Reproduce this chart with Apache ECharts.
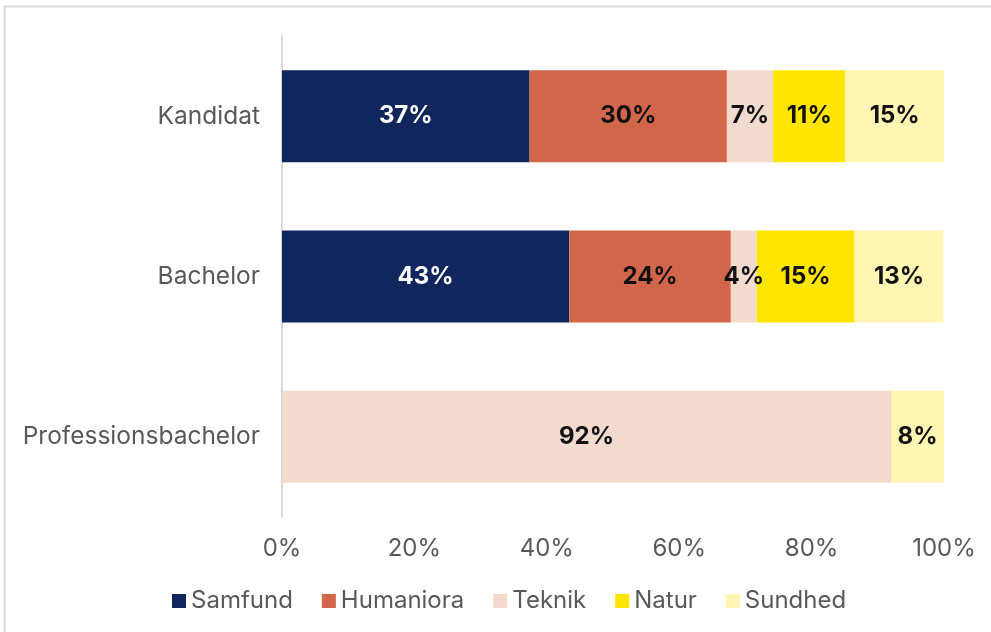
<!DOCTYPE html>
<html>
<head>
<meta charset="utf-8">
<script src="https://cdn.jsdelivr.net/npm/echarts@6/dist/echarts.min.js"></script>
<style>
  html, body { margin: 0; padding: 0; background: #fff; }
  #showChart { width: 991px; height: 632px; }
</style>
</head>
<body>
<div id="showChart"></div>
<script>
// kategorier (oppefra og ned)
var categories = ['Kandidat', 'Bachelor', 'Professionsbachelor'];
var seriesNames = ['Samfund', 'Humaniora', 'Teknik', 'Natur', 'Sundhed'];
var colors = ['#10265c', '#d1664b', '#f3dace', '#ffe500', '#fff6b3'];
var labelColors = ['#ffffff', '#111111', '#111111', '#111111', '#111111'];

// andele i procent, samme rækkefølge som categories
var samfund   = [37.4, 43.4, 0];
var humaniora = [29.8, 24.4, 0];
var teknik    = [7.0, 3.9, 92.0];
var natur     = [10.9, 14.8, 0];
var sundhed   = [14.9, 13.4, 8.0];
var xTicks = [0, 20, 40, 60, 80, 100];

var allValues = [samfund, humaniora, teknik, natur, sundhed];
var myChart = echarts.init(document.getElementById('showChart'));

var series = [];
for (var i = 0; i < seriesNames.length; i++) {
    series.push({
        name: seriesNames[i],
        type: 'bar',
        stack: 'total',
        barWidth: 92,
        itemStyle: { color: colors[i] },
        label: {
            show: true,
            position: 'inside',
            color: labelColors[i],
            fontFamily: 'Inter',
            fontWeight: 'bold',
            fontSize: 24,
            formatter: function (p) {
                if (!p.value) return '';
                return Math.round(p.value) + '%';
            }
        },
        data: allValues[i]
    });
}

var option = {
    backgroundColor: '#ffffff',
    animation: false,
    textStyle: { fontFamily: 'Inter' },
    grid: { left: 282, right: 47, top: 36, bottom: 115, containLabel: false },
    legend: {
        data: seriesNames,
        bottom: 14,
        left: 167,
        itemWidth: 14,
        itemHeight: 14,
        itemGap: 29,
        icon: 'rect',
        textStyle: { color: '#595959', fontSize: 24 }
    },
    xAxis: {
        type: 'value',
        min: 0,
        max: 100,
        interval: 20,
        splitLine: { show: false },
        axisLine: { show: false },
        axisTick: { show: false },
        axisLabel: {
            color: '#595959',
            fontSize: 24,
            margin: 20,
            formatter: function (v) { return xTicks.indexOf(v) >= 0 ? v + '%' : ''; }
        }
    },
    yAxis: {
        type: 'category',
        inverse: true,
        data: categories,
        axisLine: { show: true, lineStyle: { color: '#d9d9d9', width: 2 } },
        axisTick: { show: false },
        axisLabel: { color: '#595959', fontSize: 24.5, margin: 22, padding: [4, 0, 0, 0] }
    },
    graphic: [
        { type: 'line', shape: { x1: 4, y1: 6.5, x2: 991, y2: 6.5 }, style: { stroke: '#d9d9d9', lineWidth: 2 } },
        { type: 'line', shape: { x1: 4.5, y1: 6, x2: 4.5, y2: 632 }, style: { stroke: '#d9d9d9', lineWidth: 2 } }
    ],
    series: series
};

myChart.setOption(option);
</script>
</body>
</html>
